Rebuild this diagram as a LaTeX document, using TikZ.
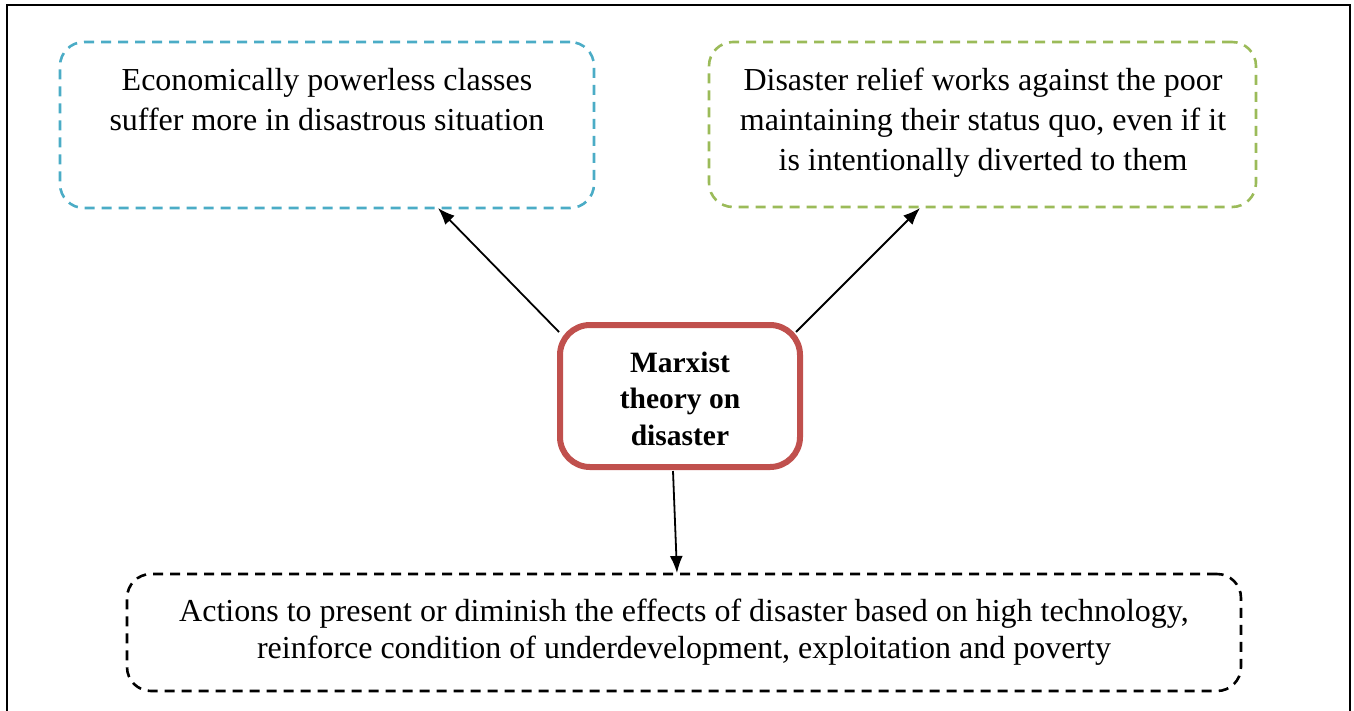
\documentclass[tikz,border=0pt]{standalone}
\usepackage{fontspec}
\setmainfont{Liberation Serif}
\usetikzlibrary{arrows.meta}
\definecolor{aqua}{HTML}{4BACC6}
\definecolor{olive}{HTML}{9BBB59}
\definecolor{brick}{HTML}{C0504D}
\begin{document}
\begin{tikzpicture}[x=1pt,y=-1pt,
  dashbox/.style={draw, line width=2.6pt, rounded corners=24pt, dash pattern=on 10pt off 7pt},
  corebox/.style={draw=brick, line width=6pt, rounded corners=30pt, fill=white},
  boxtext/.style={font=\fontsize{32}{40}\selectfont, align=center, inner sep=0pt, anchor=base},
  link/.style={line width=1.8pt, -{Latex[length=17pt,width=13pt]}}]
  \useasboundingbox (0,0) rectangle (1354,710);
  % outer frame
  \draw[line width=2pt] (7,720) -- (7,5) -- (1350,5) -- (1350,720);

  % boxes
  \node[dashbox, draw=aqua, minimum width=534pt, minimum height=166pt] (left) at (327,125) {};
  \node[dashbox, draw=olive, minimum width=547pt, minimum height=165pt] (right) at (982.5,124.5) {};
  \node[dashbox, draw=black, minimum width=1114pt, minimum height=117pt] (bottom) at (684,632.5) {};
  \node[corebox, minimum width=240pt, minimum height=142pt] (core) at (680,396) {};

  % texts (anchored at the baseline of their last line)
  \node[boxtext] (lefttxt) at (327,130.7) {Economically powerless classes\\suffer more in disastrous situation};
  \node[boxtext] (righttxt) at (983,170.2) {Disaster relief works against the poor\\maintaining their status quo, even if it\\is intentionally diverted to them};
  \node[boxtext, font=\fontsize{32}{36.5}\selectfont] (bottomtxt) at (684,658.2) {Actions to present or diminish the effects of disaster based on high technology,\\reinforce condition of underdevelopment, exploitation and poverty};
  \node[boxtext, font=\bfseries\fontsize{29.5}{36.5}\selectfont] (coretxt) at (680,445) {Marxist\\theory on\\disaster};

  % connectors
  \coordinate (lt) at (438,208);
  \coordinate (rt) at (920,208);
  \coordinate (bt) at (677,573);
  \draw[link] (core.north west) ++(2,10) coordinate (c1) -- (lt);
  \draw[link] (core.north east) ++(-7,10) coordinate (c2) -- (rt);
  \draw[link] (673,471) coordinate (c3) -- (bt);
\end{tikzpicture}
\end{document}
